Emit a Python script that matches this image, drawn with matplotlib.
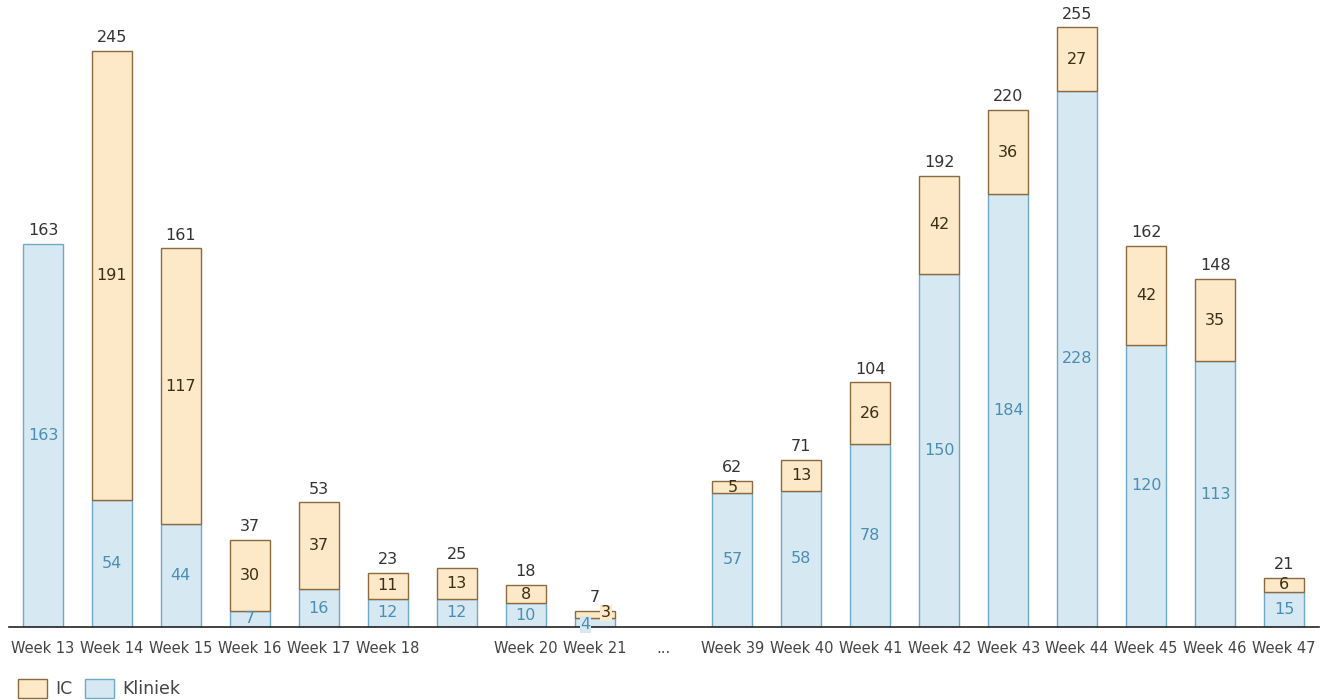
import matplotlib
matplotlib.use("Agg")
import matplotlib.pyplot as plt
from matplotlib.patches import Patch

weeks = ["Week 13", "Week 14", "Week 15", "Week 16", "Week 17", "Week 18", "", "Week 20", "Week 21", "...",
         "Week 39", "Week 40", "Week 41", "Week 42", "Week 43", "Week 44", "Week 45", "Week 46", "Week 47"]
kliniek = [163, 54, 44, 7, 16, 12, 12, 10, 4, 0, 57, 58, 78, 150, 184, 228, 120, 113, 15]
ic = [0, 191, 117, 30, 37, 11, 13, 8, 3, 0, 5, 13, 26, 42, 36, 27, 42, 35, 6]

k_fill, k_edge, k_text = "#d6e8f1", "#6fa9c9", "#4a8db5"
i_fill, i_edge, i_text = "#fde8c8", "#8a6a3e", "#3d2f14"

plt.rcParams['font.family'] = ['DejaVu Sans']
fig = plt.figure(figsize=(13.21, 7.0), dpi=100)
ax = fig.add_axes([8.5/1321, 73/700, 1310/1321, 0.995 - 73/700])

x = list(range(len(weeks)))
w = 0.58
k_edges = [k_edge if v > 0 else 'none' for v in kliniek]
i_edges = [i_edge if v > 0 else 'none' for v in ic]
ax.bar(x, kliniek, width=w, color=k_fill, edgecolor=k_edges, linewidth=1.0)
ax.bar(x, ic, width=w, bottom=kliniek, color=i_fill, edgecolor=i_edges, linewidth=1.0)

fs = 11.5
for i in x:
    k, c = kliniek[i], ic[i]
    tot = k + c
    if tot == 0:
        continue
    if weeks[i] == "Week 21":
        ax.text(i - 0.13, k / 2 - 1.0, str(k), ha='center', va='center', fontsize=fs, color=k_text,
                bbox=dict(boxstyle='square,pad=0.05', fc=k_fill, ec='none'))
        ax.text(i + 0.17, k + c / 2 + 0.5, str(c), ha='center', va='center', fontsize=fs, color=i_text,
                bbox=dict(boxstyle='square,pad=0.05', fc=i_fill, ec='none'))
    else:
        if k > 0:
            ax.text(i, k / 2, str(k), ha='center', va='center', fontsize=fs, color=k_text)
        if c > 0:
            ax.text(i, k + c / 2, str(c), ha='center', va='center', fontsize=fs, color=i_text)
    ax.text(i, tot + 2.5, str(tot), ha='center', va='bottom', fontsize=fs, color='#333333')

ax.set_xlim(-0.5, len(weeks) - 0.5)
ax.set_ylim(0, 255 * 624 / 600)
ax.set_xticks(x)
ax.set_xticklabels(weeks, fontsize=10.5, color='#444444')
ax.tick_params(axis='x', length=0, pad=10)
ax.set_yticks([])
for s in ['top', 'right', 'left']:
    ax.spines[s].set_visible(False)
ax.spines['bottom'].set_color('#222222')
ax.spines['bottom'].set_linewidth(1.2)

handles = [Patch(facecolor=i_fill, edgecolor=i_edge, label='IC'),
           Patch(facecolor=k_fill, edgecolor=k_edge, label='Kliniek')]
fig.legend(handles=handles, loc='lower left', bbox_to_anchor=(0.002, -0.02), ncol=2, frameon=False,
           fontsize=12.5, handlelength=1.65, handleheight=1.35, columnspacing=0.7, handletextpad=0.5,
           labelcolor='#444444')

fig.savefig("out.png", dpi=100)
